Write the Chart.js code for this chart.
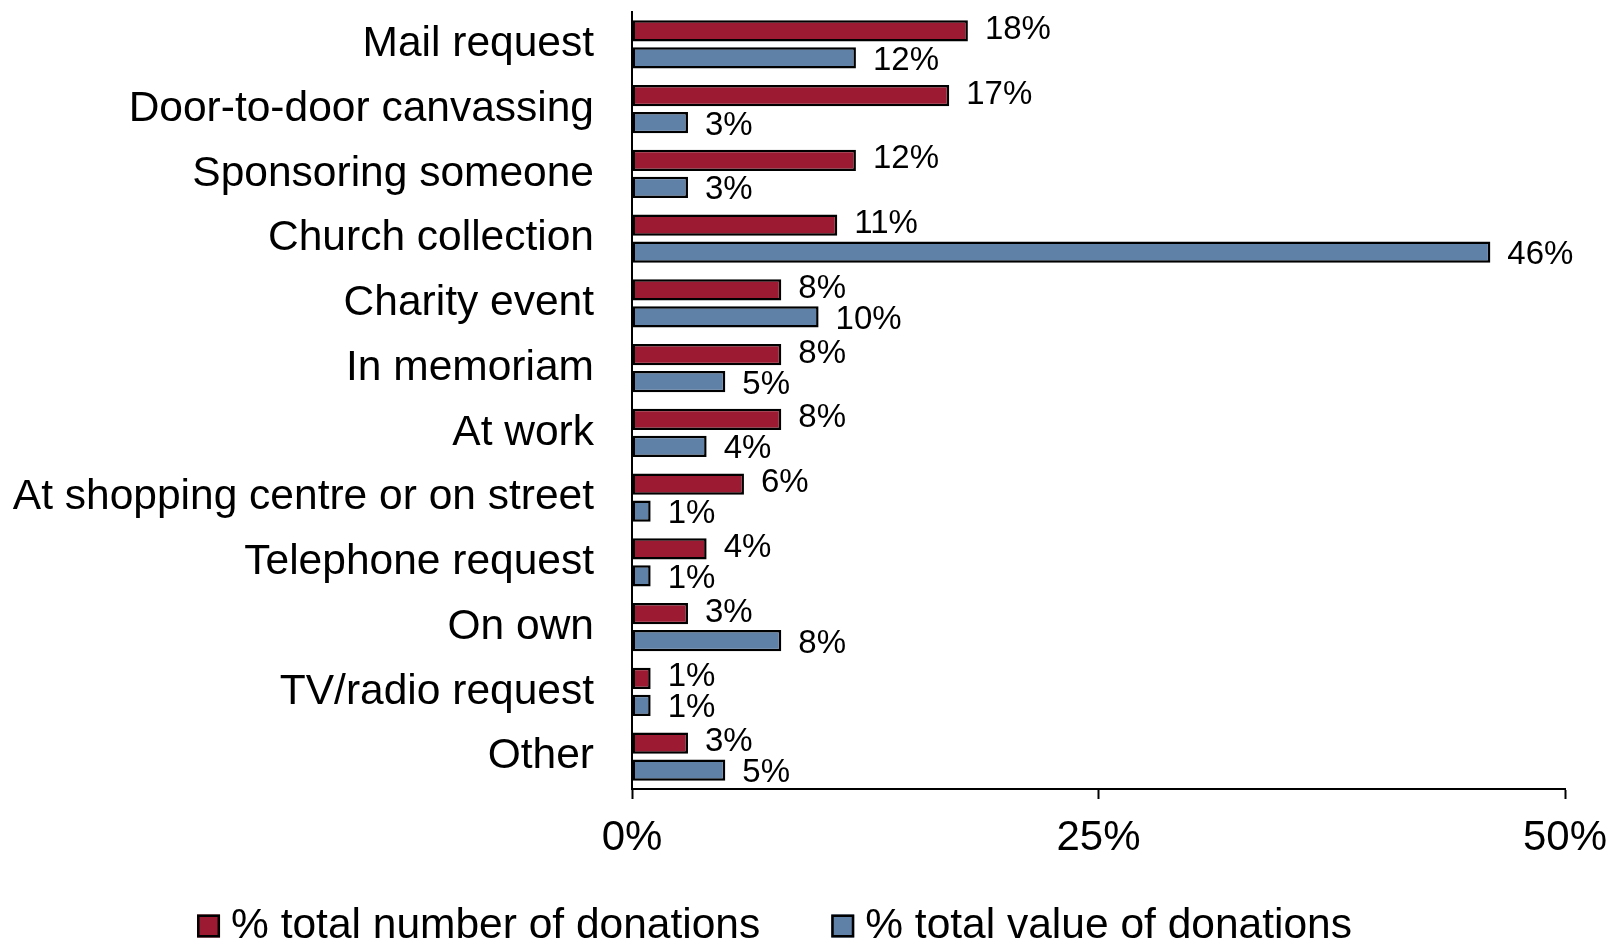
<!DOCTYPE html>
<html lang="en">
<head>
  <meta charset="UTF-8">
  <title>Donations by method</title>
  <script src="https://cdn.jsdelivr.net/npm/chart.js"></script>
  <style>
    body {
      margin: 0;
      background: #ffffff;
    }
    canvas {
      display: block;
    }
  </style>
</head>
<body>

  <canvas id="donationChart" width="1611" height="939"></canvas>

  <script>
    const categories = [
      'Mail request',
      'Door-to-door canvassing',
      'Sponsoring someone',
      'Church collection',
      'Charity event',
      'In memoriam',
      'At work',
      'At shopping centre or on street',
      'Telephone request',
      'On own',
      'TV/radio request',
      'Other'
    ];
    const numberShare = [18, 17, 12, 11, 8, 8, 8, 6, 4, 3, 1, 3];
    const valueShare = [12, 3, 3, 46, 10, 5, 4, 1, 1, 8, 1, 5];
    const seriesNames = ['% total number of donations', '% total value of donations'];
    const xTicks = [0, 25, 50];

    const FONT = "'Liberation Sans', Arial, sans-serif";
    const RED = '#9c1b32';
    const BLUE = '#5f80a7';

    // percentage next to the end of every bar
    const barLabels = {
      id: 'barLabels',
      afterDatasetsDraw(chart) {
        const ctx = chart.ctx;
        ctx.save();
        ctx.font = '33px ' + FONT;
        ctx.fillStyle = '#000';
        ctx.textAlign = 'left';
        ctx.textBaseline = 'middle';
        chart.data.datasets.forEach((ds, i) => {
          const meta = chart.getDatasetMeta(i);
          const dy = i === 0 ? -1 : 3;
          meta.data.forEach((bar, j) => {
            ctx.fillText(ds.data[j] + '%', bar.x + 17, bar.y + dy);
          });
        });
        ctx.restore();
      }
    };

    // legend row along the bottom edge
    const bottomLegend = {
      id: 'bottomLegend',
      afterDraw(chart) {
        const ctx = chart.ctx;
        const box = 23, gap = 11, spacing = 71;
        ctx.save();
        ctx.font = '42.5px ' + FONT;
        ctx.textAlign = 'left';
        ctx.textBaseline = 'middle';
        const items = chart.data.datasets.map(ds => ({
          text: ds.label,
          color: ds.backgroundColor,
          w: box + gap + ctx.measureText(ds.label).width
        }));
        const total = items.reduce((s, it) => s + it.w, 0) + spacing * (items.length - 1);
        let x = chart.width / 2 - 31 - total / 2;
        const y = chart.height - 13;
        items.forEach(it => {
          ctx.fillStyle = it.color;
          ctx.fillRect(x, y - box / 2, box, box);
          ctx.lineWidth = 2.5;
          ctx.strokeStyle = '#000';
          ctx.strokeRect(x + 1.25, y - box / 2 + 1.25, box - 2.5, box - 2.5);
          ctx.fillStyle = '#000';
          ctx.fillText(it.text, x + box + gap, y);
          x += it.w + spacing;
        });
        ctx.restore();
      }
    };

    const ctx = document.getElementById('donationChart').getContext('2d');

    new Chart(ctx, {
      type: 'bar',
      data: {
        labels: categories,
        datasets: [
          {
            label: seriesNames[0],
            data: numberShare,
            backgroundColor: RED,
            borderColor: '#000',
            borderWidth: 2.5,
            borderSkipped: false,
            categoryPercentage: 0.834,
            barPercentage: 0.78
          },
          {
            label: seriesNames[1],
            data: valueShare,
            backgroundColor: BLUE,
            borderColor: '#000',
            borderWidth: 2.5,
            borderSkipped: false,
            categoryPercentage: 0.834,
            barPercentage: 0.78
          }
        ]
      },
      options: {
        indexAxis: 'y',
        responsive: false,
        animation: false,
        layout: {
          padding: { top: 12, right: 46, bottom: 80, left: 0 }
        },
        plugins: {
          legend: { display: false },
          tooltip: { enabled: false }
        },
        scales: {
          x: {
            min: xTicks[0],
            max: xTicks[xTicks.length - 1],
            afterBuildTicks(scale) {
              scale.ticks = xTicks.map(v => ({ value: v }));
            },
            afterFit(scale) {
              scale.height = 70;
              scale.paddingLeft = 0;
              scale.paddingRight = 0;
            },
            grid: {
              drawOnChartArea: false,
              drawTicks: true,
              tickLength: 10,
              tickWidth: 2,
              tickColor: '#000'
            },
            border: { display: true, color: '#000', width: 2 },
            ticks: {
              color: '#000',
              padding: 14,
              maxRotation: 0,
              font: { family: FONT, size: 42 },
              callback: v => v + '%'
            }
          },
          y: {
            afterFit(scale) {
              scale.width = 632;
              scale.paddingTop = 0;
              scale.paddingBottom = 0;
            },
            grid: { display: false, drawTicks: false },
            border: { display: true, color: '#000', width: 2 },
            ticks: {
              color: '#000',
              padding: 38,
              autoSkip: false,
              font: { family: FONT, size: 42.5 }
            }
          }
        }
      },
      plugins: [barLabels, bottomLegend]
    });
  </script>

</body>
</html>
